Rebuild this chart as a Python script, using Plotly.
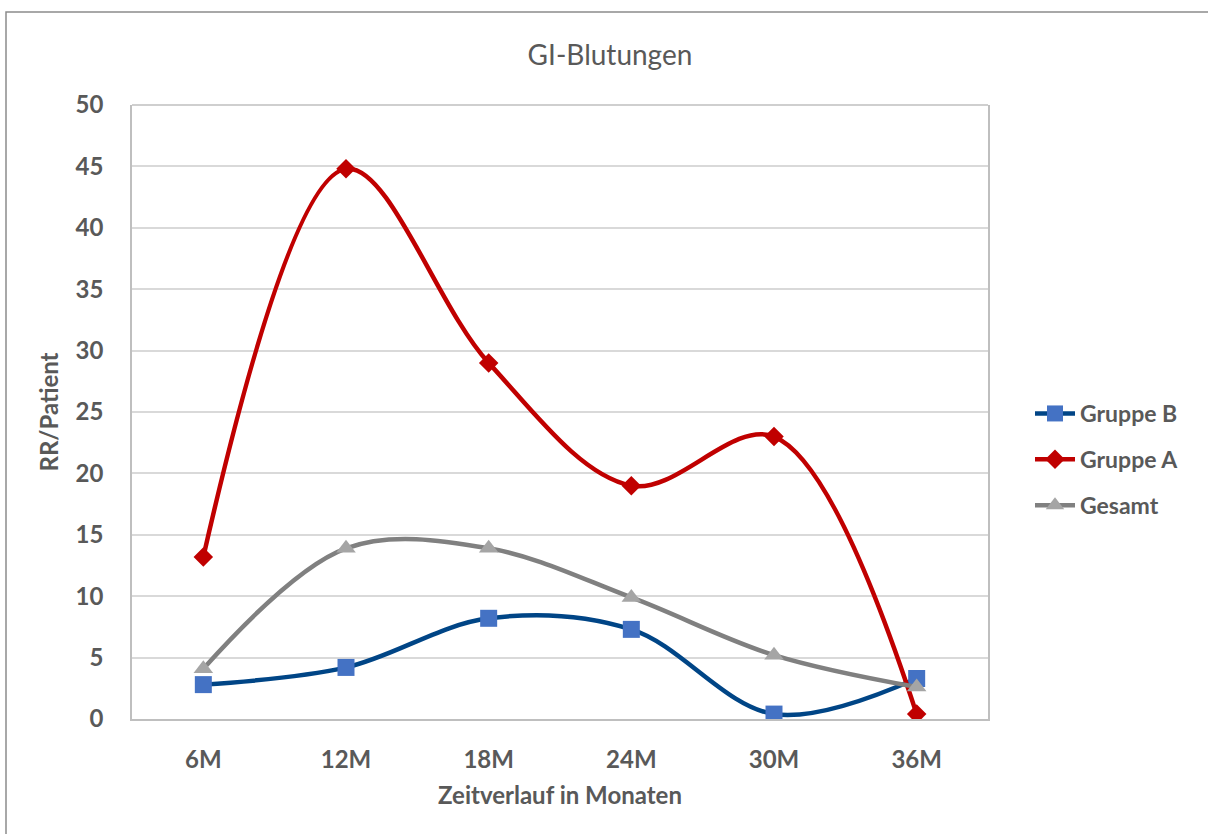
import plotly.graph_objects as go

categories = ["6M", "12M", "18M", "24M", "30M", "36M"]
gruppe_b = [2.8, 4.2, 8.2, 7.3, 0.4, 3.3]
gruppe_a = [13.2, 44.8, 29.0, 19.0, 23.0, 0.4]
gesamt = [4.1, 13.9, 13.9, 9.9, 5.2, 2.6]
y_ticks = [0, 5, 10, 15, 20, 25, 30, 35, 40, 45, 50]

FONT = "Lato"
GRAY = "#595959"

fig = go.Figure()
fig.add_trace(go.Scatter(
    x=categories, y=gruppe_b, name="Gruppe B", mode="lines+markers", legendgroup="b",
    line=dict(color="#004586", width=4.5, shape="spline", smoothing=1),
    marker=dict(symbol="square", size=17, color="#4472C4"),
))
fig.add_trace(go.Scatter(
    x=categories, y=gruppe_a, name="Gruppe A", mode="lines+markers", legendgroup="a",
    line=dict(color="#C00000", width=4.5, shape="spline", smoothing=1),
    marker=dict(symbol="diamond", size=15, color="#C00000"),
))
fig.add_trace(go.Scatter(
    x=categories, y=gesamt, name="Gesamt", mode="lines+markers", legendgroup="g",
    line=dict(color="#808080", width=4.5, shape="spline", smoothing=1),
    marker=dict(symbol="triangle-up", size=17, color="#A5A5A5"),
))

L, R, T, B = 132, 220, 105, 115
W, H = 1208, 834
pw, ph = W - L - R, H - T - B

tick_font = dict(size=24, color=GRAY, family=FONT, weight="bold")

fig.update_layout(
    width=W, height=H,
    margin=dict(l=L, r=R, t=T, b=B),
    paper_bgcolor="white", plot_bgcolor="white",
    font=dict(family=FONT, color=GRAY),
    title=dict(text="GI-Blutungen", x=610 / W, xref="container",
               xanchor="center", y=1 - 55 / H, yanchor="middle",
               font=dict(size=28, color=GRAY, family=FONT)),
    xaxis=dict(
        type="category", range=[-0.5, 5.5], showgrid=False, zeroline=False,
        showline=True, linecolor="#bfbfbf", linewidth=1.5, mirror=False,
        tickfont=tick_font, ticks="", ticklabelstandoff=18,
        title=dict(text="Zeitverlauf in Monaten", standoff=16, font=tick_font),
    ),
    yaxis=dict(
        range=[0, 50], tickvals=y_ticks, showgrid=True, gridcolor="#d9d9d9", gridwidth=1.5,
        zeroline=False, showline=True, linecolor="#bfbfbf", linewidth=1.5, mirror=True,
        tickfont=tick_font, ticks="", ticklabelstandoff=22,
        title=dict(text="RR/Patient", standoff=10, font=tick_font),
    ),
    legend=dict(
        x=(1030 - L) / pw, xanchor="left", y=(719 - 392) / ph, yanchor="top",
        font=dict(size=23, color=GRAY, family=FONT, weight="bold"),
        tracegroupgap=13, itemwidth=40, bgcolor="rgba(0,0,0,0)",
    ),
    showlegend=True,
)

fig.add_shape(type="rect", xref="paper", yref="paper",
              x0=(6 - L) / pw, x1=(1215 - L) / pw,
              y0=(719 - 845) / ph, y1=(719 - 12) / ph,
              line=dict(color="#8c8c8c", width=1.5), fillcolor="rgba(0,0,0,0)", layer="below")
fig.add_shape(type="line", xref="paper", yref="paper", x0=0, x1=1, y0=1, y1=1,
              line=dict(color="#bfbfbf", width=1.5))

fig.write_html("out.html")
